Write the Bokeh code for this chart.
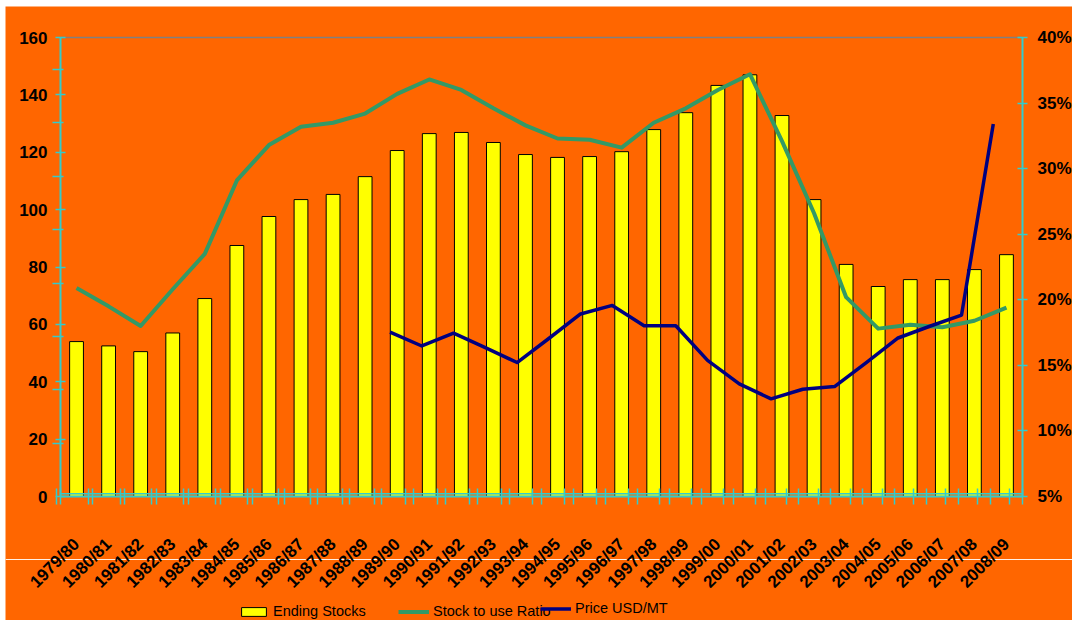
from bokeh.plotting import figure
from bokeh.models import (Range1d, LinearAxis, FixedTicker, PrintfTickFormatter,
                          Legend, LegendItem, Span)
from bokeh.embed import file_html
from bokeh.resources import INLINE
from math import pi

# ---------------- data ----------------
seasons = ["1979/80", "1980/81", "1981/82", "1982/83", "1983/84", "1984/85",
           "1985/86", "1986/87", "1987/88", "1988/89", "1989/90", "1990/91",
           "1991/92", "1992/93", "1993/94", "1994/95", "1995/96", "1996/97",
           "1997/98", "1998/99", "1999/00", "2000/01", "2001/02", "2002/03",
           "2003/04", "2004/05", "2005/06", "2006/07", "2007/08", "2008/09"]

ending_stocks = [54.0, 52.5, 50.5, 57.0, 69.0, 87.5, 97.6, 103.5, 105.3, 111.5,
                 120.6, 126.5, 126.9, 123.4, 119.2, 118.2, 118.5, 120.2, 127.9, 133.8,
                 143.3, 147.0, 132.8, 103.5, 80.9, 73.2, 75.6, 75.6, 79.1, 84.3]

stock_to_use_pct = [20.9, 19.5, 18.0, 20.8, 23.5, 29.1, 31.8, 33.2, 33.5, 34.2,
                    35.7, 36.8, 36.0, 34.6, 33.3, 32.3, 32.2, 31.6, 33.5, 34.6,
                    36.0, 37.2, 32.1, 26.6, 20.2, 17.8, 18.1, 17.9, 18.4, 19.4]

price_seasons = seasons[10:]
price_usd_mt = [308, 282, 306, 279, 251, 296, 342, 358, 320, 320,
                255, 211, 183, 201, 206, 251, 297, 319, 340, 698]

left_ticks = [0, 20, 40, 60, 80, 100, 120, 140, 160]
right_ticks = [5, 10, 15, 20, 25, 30, 35, 40]
price_ticks = [100, 200, 300, 400, 500, 600, 700, 800]

# ---------------- layout geometry (page pixels) ----------------
W, H = 1067, 614            # figure size
OX, OY = 5, 6               # figure offset on the page
PL, PR, PT, PB = 60, 1022, 37, 496   # plot area on the page

ORANGE = "#FF6600"
CYAN = "#33CCCC"
FONT = "'Liberation Sans', Arial, sans-serif"

n = len(seasons)
xs = list(range(n))
price_x = [seasons.index(s) for s in price_seasons]


def full_range(d0, d1, p0, p1, f0, f1):
    """data d0 at pixel p0, d1 at pixel p1 -> range for pixels f0..f1"""
    k = (d1 - d0) / (p1 - p0)
    return Range1d(d0 - (p0 - f0) * k, d1 + (f1 - p1) * k)


fx0, fx1 = OX, OX + W
fy0, fy1 = OY, OY + H
X0, X1 = -0.5, n - 0.5
PX0, PX1 = -0.38, n - 0.08
PY1 = 860

x_range = full_range(X0, X1, PL, PR, fx0, fx1)
px_range = full_range(PX0, PX1, PL, PR, fx0, fx1)
y_range = full_range(0, 160, -PB, -PT, -fy1, -fy0)
ratio_range = full_range(5, 40, -PB, -PT, -fy1, -fy0)
price_range = full_range(0, PY1, -PB, -PT, -fy1, -fy0)

p = figure(width=W, height=H, margin=(OY, 0, 0, OX),
           x_range=x_range, y_range=y_range,
           output_backend="svg", toolbar_location=None,
           min_border=0, min_border_left=0, min_border_right=0,
           min_border_top=0, min_border_bottom=0)
p.extra_y_ranges = {"ratio": ratio_range, "price": price_range}
p.extra_x_ranges = {"px": px_range}

p.background_fill_color = ORANGE
p.border_fill_color = ORANGE
p.outline_line_color = None
p.xgrid.visible = False
p.ygrid.visible = False

ypx = lambda page_y: y_range.start + (fy1 - page_y) * (y_range.end - y_range.start) / H

# decorative white slide line
p.add_layout(Span(location=ypx(559), dimension="width", line_color="#FFFFFF",
                  line_width=1, line_alpha=0.9, level="underlay"))

# top border of the plot area
p.segment(x0=[X0], y0=[160], x1=[X1], y1=[160], line_color="#808080", line_width=1.5)

# bars
bars = p.vbar(x=xs, top=ending_stocks, width=0.43, bottom=0,
              fill_color="#FFFF00", line_color="#000000", line_width=1)

# secondary category-axis line
p.segment(x0=[X0], y0=[ypx(493.3)], x1=[X1], y1=[ypx(493.3)],
          line_color=CYAN, line_width=1.5)

# stock to use ratio (right axis)
ratio = p.line(x=xs, y=stock_to_use_pct, y_range_name="ratio",
               line_color="#339966", line_width=4, line_join="round")

# price (own hidden scale)
price = p.line(x=price_x, y=price_usd_mt, x_range_name="px", y_range_name="price",
               line_color="#000080", line_width=3.5, line_join="round")

# ---------------- axes ----------------
bounds = [i - 0.5 for i in range(n + 1)]
pbounds = []
for j in range(n + 1):
    frac = (j - 0.5 - PX0) / (PX1 - PX0)
    pbounds.append(X0 + frac * (X1 - X0))

xax = p.xaxis[0]
xax.fixed_location = 0
xax.bounds = (X0, X1)
xax.ticker = FixedTicker(ticks=xs, minor_ticks=bounds + pbounds)
xax.major_label_overrides = {i: s for i, s in enumerate(seasons)}
xax.major_label_orientation = pi / 4
xax.major_tick_in = 0
xax.major_tick_out = 0
xax.minor_tick_in = 8
xax.minor_tick_out = 8
xax.minor_tick_line_color = CYAN
xax.minor_tick_line_width = 1.5
xax.axis_line_color = CYAN
xax.axis_line_width = 2
xax.major_label_standoff = 37
xax.major_label_text_font = FONT
xax.major_label_text_font_style = "bold"
xax.major_label_text_font_size = "17px"
xax.major_label_text_color = "#000000"

yax = p.yaxis[0]
yax.fixed_location = X0
yax.bounds = (0, 160)
yax.ticker = FixedTicker(ticks=left_ticks,
                         minor_ticks=[t / PY1 * 160 for t in price_ticks])
yax.major_tick_in = 5
yax.major_tick_out = 5
yax.minor_tick_in = 3
yax.minor_tick_out = 8
yax.major_tick_line_color = CYAN
yax.minor_tick_line_color = CYAN
yax.major_tick_line_width = 1.5
yax.minor_tick_line_width = 1.5
yax.axis_line_color = CYAN
yax.axis_line_width = 2
yax.major_label_standoff = 5
yax.major_label_text_font = FONT
yax.major_label_text_font_style = "bold"
yax.major_label_text_font_size = "17px"
yax.major_label_text_color = "#000000"

rax = LinearAxis(y_range_name="ratio",
                 ticker=FixedTicker(ticks=right_ticks),
                 formatter=PrintfTickFormatter(format="%d%%"))
rax.fixed_location = X1
rax.bounds = (5, 40)
rax.major_tick_in = 5
rax.major_tick_out = 5
rax.minor_tick_line_color = None
rax.major_tick_line_color = CYAN
rax.major_tick_line_width = 1.5
rax.axis_line_color = CYAN
rax.axis_line_width = 2
rax.major_label_standoff = 10
rax.major_label_text_font = FONT
rax.major_label_text_font_style = "bold"
rax.major_label_text_font_size = "17px"
rax.major_label_text_color = "#000000"
p.add_layout(rax, "right")

# ---------------- legends ----------------
def add_legend(label, rend, page_x, page_bottom):
    lg = Legend(items=[LegendItem(label=label, renderers=[rend])],
                location=(page_x - fx0, fy1 - page_bottom), orientation="horizontal",
                background_fill_alpha=0, border_line_color=None,
                padding=0, margin=0, spacing=0,
                glyph_width=31, glyph_height=11, label_standoff=4,
                label_height=18,
                label_text_font=FONT, label_text_font_size="14.5px",
                label_text_color="#000000")
    p.add_layout(lg, "center")

add_legend("Ending Stocks", bars, 238, 620)
add_legend("Stock to use Ratio", ratio, 398, 620)
add_legend("Price USD/MT", price, 540, 617)

open("out.html", "w").write(file_html(p, INLINE))
